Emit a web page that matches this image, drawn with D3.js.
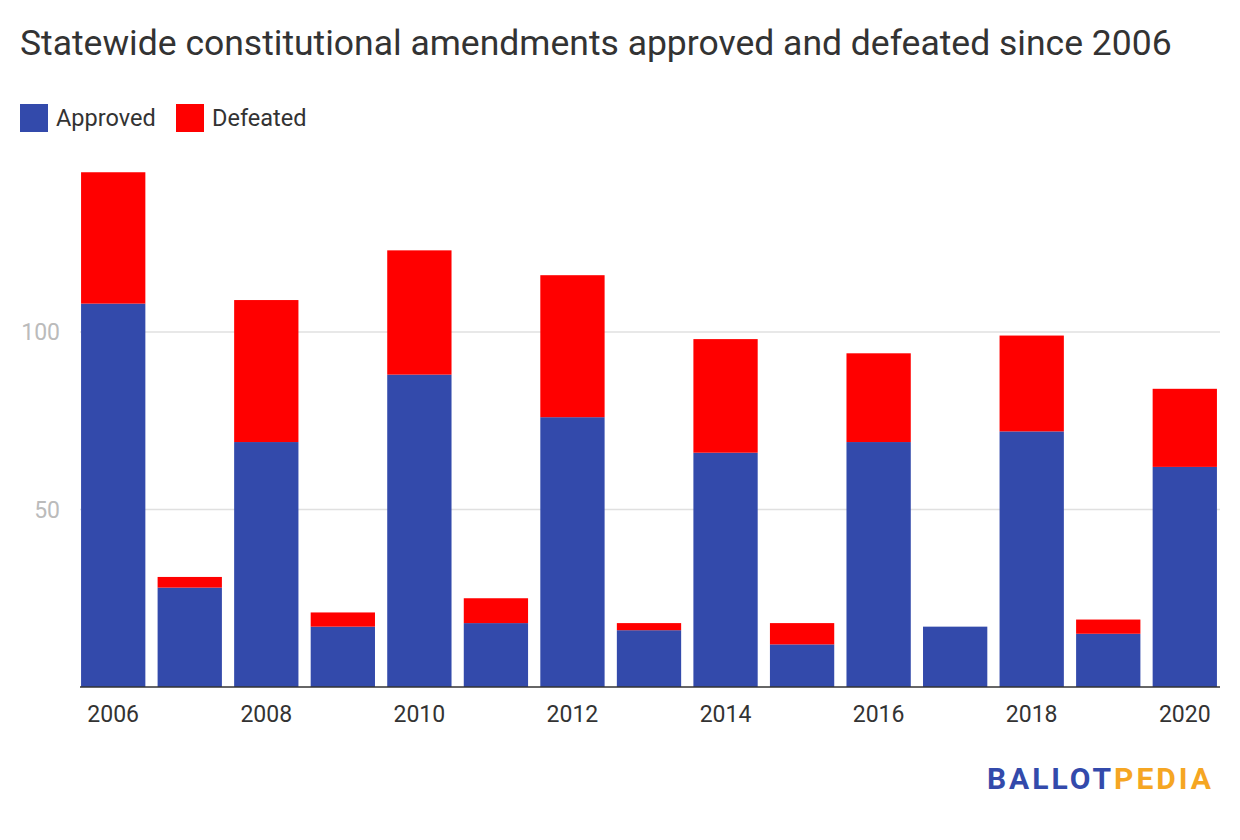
<!DOCTYPE html>
<html lang="en">
<head>
<meta charset="UTF-8">
<title>Amendments</title>
<script src="https://d3js.org/d3.v7.min.js"></script>
<style>
  body { margin: 0; background: #fff; font-family: Roboto, sans-serif; }
</style>
</head>
<body>
<script>
    var years = [2006, 2007, 2008, 2009, 2010, 2011, 2012, 2013, 2014, 2015, 2016, 2017, 2018, 2019, 2020];
    var approved = [108, 28, 69, 17, 88, 18, 76, 16, 66, 12, 69, 17, 72, 15, 62];
    var defeated = [37, 3, 40, 4, 35, 7, 40, 2, 32, 6, 25, 0, 27, 4, 22];
    var yTicks = [50, 100];
    var xLabels = [2006, 2008, 2010, 2012, 2014, 2016, 2018, 2020];

    var width = 1240, height = 840;
    var svg = d3.select("body").append("svg")
        .attr("width", width)
        .attr("height", height);

    svg.append("text")
        .attr("x", 20).attr("y", 55)
        .attr("font-size", 35.5).attr("fill", "#333")
        .text("Statewide constitutional amendments approved and defeated since 2006");

    // legend
    var legend = [["Approved", "#334aab"], ["Defeated", "#ff0000"]];
    var lx = [20, 176];
    legend.forEach(function (d, i) {
        svg.append("rect").attr("x", lx[i]).attr("y", 104).attr("width", 28).attr("height", 28).attr("fill", d[1]);
        svg.append("text").attr("x", lx[i] + 36).attr("y", 126)
            .attr("font-size", 23.5).attr("fill", "#333").text(d[0]);
    });

    var x = d3.scaleBand().domain(years).range([78, 1220]).paddingInner(0.16).paddingOuter(0.04);
    var y = d3.scaleLinear().domain([0, 100]).range([687, 332]);

    yTicks.forEach(function (t) {
        svg.append("line").attr("x1", 80).attr("x2", 1220)
            .attr("y1", y(t)).attr("y2", y(t))
            .attr("stroke", "#e0e0e0").attr("stroke-width", 1.5);
        svg.append("text").attr("x", 60).attr("y", y(t) + 8)
            .attr("text-anchor", "end").attr("font-size", 23).attr("fill", "#bbb").text(t);
    });

    var data = years.map(function (yr, i) { return { year: yr, a: approved[i], d: defeated[i] }; });

    svg.selectAll(".a").data(data).enter().append("rect")
        .attr("x", function (d) { return x(d.year); })
        .attr("width", x.bandwidth())
        .attr("y", function (d) { return y(d.a); })
        .attr("height", function (d) { return y(0) - y(d.a); })
        .attr("fill", "#334aab");

    svg.selectAll(".d").data(data).enter().append("rect")
        .attr("x", function (d) { return x(d.year); })
        .attr("width", x.bandwidth())
        .attr("y", function (d) { return y(d.a + d.d); })
        .attr("height", function (d) { return y(d.a) - y(d.a + d.d); })
        .attr("fill", "#ff0000");

    svg.append("line").attr("x1", 80).attr("x2", 1220)
        .attr("y1", y(0)).attr("y2", y(0))
        .attr("stroke", "#333").attr("stroke-width", 1.5);

    xLabels.forEach(function (yr) {
        svg.append("text").attr("x", x(yr) + x.bandwidth() / 2).attr("y", 722)
            .attr("text-anchor", "middle").attr("font-size", 23).attr("fill", "#333").text(yr);
    });

    var logo = svg.append("text").attr("x", 1214).attr("y", 789)
        .attr("text-anchor", "end").attr("font-size", 30).attr("font-weight", "bold")
        .attr("letter-spacing", 3);
    logo.append("tspan").attr("fill", "#334aab").text("BALLOT");
    logo.append("tspan").attr("fill", "#f5a623").text("PEDIA");
</script>
</body>
</html>
